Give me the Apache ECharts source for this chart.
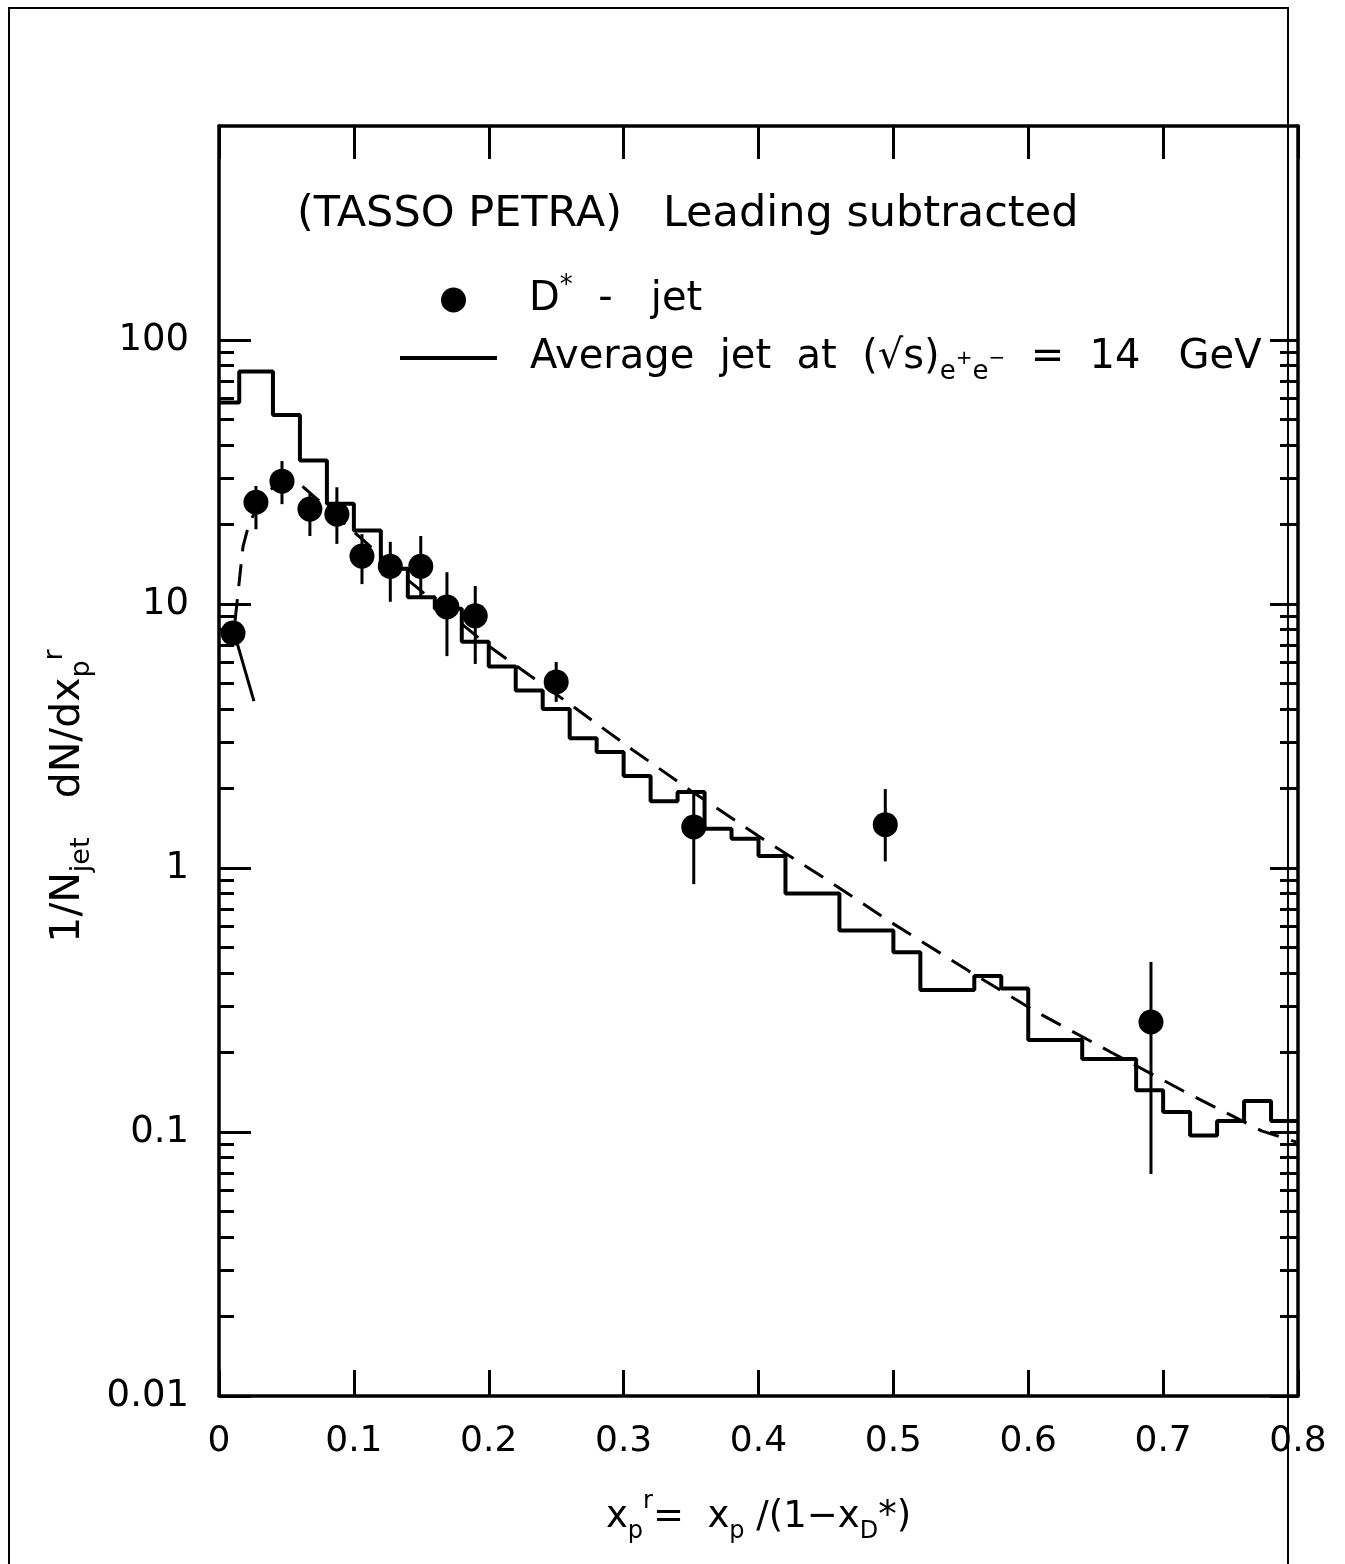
<!DOCTYPE html>
<html>
<head>
<meta charset="utf-8">
<script src="https://cdn.jsdelivr.net/npm/echarts@6/dist/echarts.min.js"></script>
<style>
  html, body { margin: 0; background: #fff; }
  #chart { width: 1345px; height: 1564px; }
</style>
</head>
<body>
<div id="chart"></div>
<script>
// average jet histogram: bin edges and contents
const histEdges = [0, 0.015, 0.04, 0.06, 0.08, 0.10, 0.12, 0.14, 0.16, 0.18, 0.20,
  0.22, 0.24, 0.26, 0.28, 0.30, 0.32, 0.34, 0.36, 0.38, 0.40, 0.42, 0.46, 0.50,
  0.52, 0.56, 0.58, 0.60, 0.64, 0.68, 0.70, 0.72, 0.74, 0.76, 0.78, 0.80];
const histValues = [58, 76, 52, 35, 24, 19, 13.6, 10.6, 9.6, 7.2, 5.8, 4.7, 4.0,
  3.1, 2.75, 2.23, 1.79, 1.94, 1.41, 1.29, 1.11, 0.80, 0.58, 0.48, 0.345, 0.39,
  0.35, 0.223, 0.189, 0.144, 0.119, 0.097, 0.110, 0.131, 0.110];

// D* - jet points with error bars
const dstarX = [0.0104, 0.0274, 0.0467, 0.0674, 0.0874, 0.106, 0.127, 0.1496,
  0.169, 0.190, 0.250, 0.352, 0.494, 0.691];
const dstarY = [7.76, 24.3, 29.2, 22.9, 21.9, 15.2, 13.9, 13.9, 9.75, 9.02, 5.07,
  1.43, 1.46, 0.261];
const dstarLow = [null, 19.2, 23.9, 18.1, 16.9, 11.9, 10.2, 10.7, 6.35, 5.93, 4.26,
  0.869, 1.06, 0.0693];
const dstarHigh = [null, 28.0, 34.8, 26.1, 27.7, 18.4, 17.2, 18.1, 13.2, 11.7, 6.03,
  1.94, 1.99, 0.441];

// dashed curve
const curveX = [0.0119, 0.0148, 0.0178, 0.0222, 0.0333, 0.0467, 0.0615, 0.0704,
  0.142, 0.200, 0.257, 0.306, 0.350, 0.401, 0.450, 0.498, 0.556, 0.606, 0.661,
  0.715, 0.773, 0.799];
const curveY = [8.63, 11.9, 16.5, 20.1, 26.1, 29.2, 28.0, 25.6, 12.1, 6.93, 4.29,
  2.82, 1.96, 1.31, 0.908, 0.624, 0.407, 0.285, 0.201, 0.143, 0.101, 0.0916];

// short solid line below the first point
const tailX = [0.0126, 0.0259];
const tailY = [7.36, 4.29];

// axes
const xTicks = [0, 0.1, 0.2, 0.3, 0.4, 0.5, 0.6, 0.7, 0.8];
const xTickLabels = ['0', '0.1', '0.2', '0.3', '0.4', '0.5', '0.6', '0.7', '0.8'];
const yTicks = [0.01, 0.1, 1, 10, 100];
const yTickLabels = ['0.01', '0.1', '1', '10', '100'];
const yMinorSteps = [2, 3, 4, 5, 6, 7, 8, 9];
const yMin = 0.01;
const yMax = 647;

const FONT = 'DejaVu Sans';
// minor ticks only run up to 100, nothing above it
const yMinorTicks = [];
yTicks.filter(d => d < 100).forEach(d => yMinorSteps.forEach(m => yMinorTicks.push(d * m)));

const histData = histValues.map((v, i) => [histEdges[i], v]);
histData.push([histEdges[histEdges.length - 1], histValues[histValues.length - 1]]);

const pointData = dstarX.map((x, i) => [x, dstarY[i]]);
const errData = [];
dstarX.forEach((x, i) => { if (dstarLow[i] != null) errData.push([x, dstarLow[i], dstarHigh[i]]); });

function makeRich(size) {
  const s = Math.round(size * 0.66);
  return {
    t: { fontSize: size, fontFamily: FONT, color: '#000', lineHeight: 54 },
    sub: { fontSize: s, fontFamily: FONT, color: '#000', verticalAlign: 'bottom', lineHeight: 54 },
    sup: { fontSize: s, fontFamily: FONT, color: '#000', verticalAlign: 'top', lineHeight: 54 },
    ss: { fontSize: Math.round(size * 0.5), fontFamily: FONT, color: '#000', verticalAlign: 'bottom', padding: [0, 0, 16, 0] },
    gap: { fontSize: size, width: 70, lineHeight: 54 }
  };
}
const rich37 = makeRich(37);
const rich40 = makeRich(40);
const rich41 = makeRich(41);

const NAME_D = 'D* - jet';
const NAME_AVG = 'Average jet at (√s)e+e- = 14 GeV';

const tickLine = { color: '#000', width: 3 };
const frameLine = { show: true, lineStyle: { color: '#000', width: 3.5 } };

function yLabel(v) {
  const i = yTicks.findIndex(t => Math.abs(Math.log10(t) - Math.log10(v)) < 1e-6);
  return i >= 0 ? yTickLabels[i] : '';
}

const chart = echarts.init(document.getElementById('chart'));
chart.setOption({
  backgroundColor: '#fff',
  animation: false,
  textStyle: { fontFamily: FONT, color: '#000' },
  title: {
    text: '(TASSO PETRA)   Leading subtracted',
    left: 292, top: 188,
    textStyle: { fontSize: 43, fontWeight: 'normal', fontFamily: FONT, color: '#000' }
  },
  legend: [
    {
      data: [{ name: NAME_D, icon: 'circle' }],
      left: 436, top: 268, itemWidth: 97, itemHeight: 25,
      formatter: () => '{t|D}{sup|*}{t|  -   jet}',
      textStyle: { rich: rich40, padding: [0, 0, 0, 22] },
      selectedMode: false
    },
    {
      data: [{ name: NAME_AVG, icon: 'rect' }],
      left: 395, top: 333, itemWidth: 97, itemHeight: 4,
      formatter: () => '{t|Average  jet  at  (√s)}{sub|e}{ss|+}{sub|e}{ss|−}{t|  =  14   GeV}',
      textStyle: { rich: rich40, padding: [0, 0, 0, 28] },
      selectedMode: false
    }
  ],
  grid: { left: 219, top: 126, width: 1079, height: 1270, containLabel: false },
  xAxis: [
    {
      type: 'value', min: 0, max: 0.8, interval: 0.1, position: 'bottom',
      axisLine: frameLine,
      axisTick: { show: true, inside: true, length: 26, lineStyle: tickLine },
      axisLabel: {
        fontSize: 36, fontFamily: FONT, color: '#000', margin: 28,
        formatter: (v, i) => xTickLabels[i]
      },
      splitLine: { show: false },
      name: '{t|x}{sub|p}{sup|r}{t|=  x}{sub|p}{t| ∕(1−x}{sub|D}{t|*)}',
      nameLocation: 'middle', nameGap: 94,
      nameTextStyle: { rich: rich37 }
    },
    {
      type: 'value', min: 0, max: 0.8, interval: 0.1, position: 'top',
      axisLine: frameLine,
      axisTick: { show: true, inside: true, length: 33, lineStyle: tickLine },
      axisLabel: { show: false },
      splitLine: { show: false }
    }
  ],
  yAxis: [
    {
      type: 'log', logBase: 10, min: yMin, max: yMax, position: 'left',
      axisLine: frameLine,
      axisTick: { show: true, inside: true, length: 32, lineStyle: tickLine, customValues: yTicks },
      axisLabel: {
        fontSize: 37, fontFamily: FONT, color: '#000', margin: 30,
        customValues: yTicks, formatter: yLabel
      },
      splitLine: { show: false },
      minorTick: { show: false },
      name: '{t|1/N}{sub|jet}{t|   dN/dx}{sub|p}{sup|r}{gap| }',
      nameLocation: 'middle', nameRotate: 90, nameGap: 116,
      nameTextStyle: { rich: rich41 }
    },
    {
      type: 'log', logBase: 10, min: yMin, max: yMax, position: 'left',
      axisLine: { show: false },
      axisTick: { show: true, inside: true, length: 15, lineStyle: tickLine, customValues: yMinorTicks },
      axisLabel: { show: false },
      splitLine: { show: false }
    },
    {
      type: 'log', logBase: 10, min: yMin, max: yMax, position: 'right',
      axisLine: frameLine,
      axisTick: { show: true, inside: true, length: 28, lineStyle: tickLine, customValues: yTicks },
      axisLabel: { show: false },
      splitLine: { show: false }
    },
    {
      type: 'log', logBase: 10, min: yMin, max: yMax, position: 'right',
      axisLine: { show: false },
      axisTick: { show: true, inside: true, length: 18, lineStyle: tickLine, customValues: yMinorTicks },
      axisLabel: { show: false },
      splitLine: { show: false }
    }
  ],
  graphic: [
    {
      type: 'polyline', silent: true, z: 100,
      shape: { points: [[9, 1564], [9, 8], [1288, 8], [1288, 1564]] },
      style: { stroke: '#000', lineWidth: 2, fill: null }
    }
  ],
  series: [
    {
      name: NAME_AVG, type: 'line', step: 'end', data: histData,
      symbol: 'none', lineStyle: { color: '#000', width: 4 }, itemStyle: { color: '#000' },
      z: 3
    },
    {
      name: 'curve', type: 'line', data: curveX.map((x, i) => [x, curveY[i]]),
      symbol: 'none', lineStyle: { color: '#000', width: 3, type: [22, 13] },
      z: 3
    },
    {
      name: 'tail', type: 'line', data: tailX.map((x, i) => [x, tailY[i]]),
      symbol: 'none', lineStyle: { color: '#000', width: 3 },
      z: 3
    },
    {
      name: 'errors', type: 'custom', data: errData,
      encode: { x: 0, y: [1, 2] },
      renderItem: (params, api) => {
        const p1 = api.coord([api.value(0), api.value(1)]);
        const p2 = api.coord([api.value(0), api.value(2)]);
        return {
          type: 'line',
          shape: { x1: p1[0], y1: p1[1], x2: p2[0], y2: p2[1] },
          style: { stroke: '#000', lineWidth: 3 }
        };
      },
      z: 4
    },
    {
      name: NAME_D, type: 'scatter', data: pointData,
      symbol: 'circle', symbolSize: 25, itemStyle: { color: '#000', opacity: 1 },
      z: 5
    }
  ]
});
</script>
</body>
</html>
